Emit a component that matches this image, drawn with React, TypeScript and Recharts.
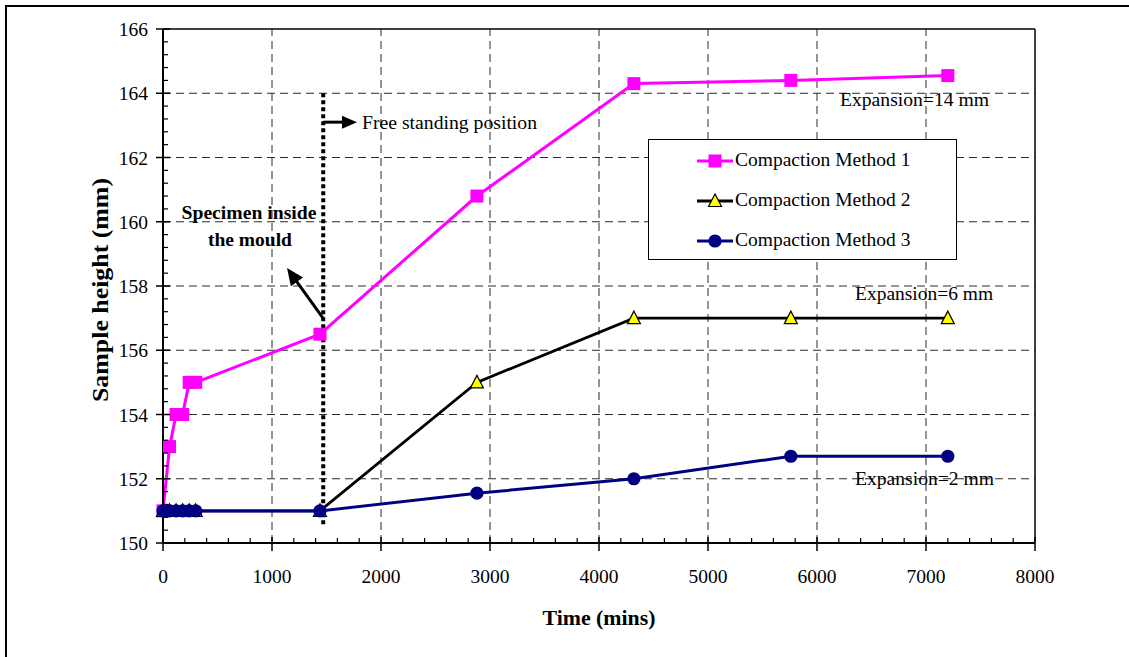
import React from 'react';
import { ComposedChart, Line, XAxis, YAxis, ReferenceLine, ReferenceDot, Legend, Label } from 'recharts';

// ---- data ----
const times = [0, 60, 120, 180, 240, 300, 1440, 2880, 4320, 5760, 7200];
const method1 = [151, 153, 154, 154, 155, 155, 156.5, 160.8, 164.3, 164.4, 164.55];
const method2 = [151, 151, 151, 151, 151, 151, 151, 155, 157, 157, 157];
const method3 = [151, 151, 151, 151, 151, 151, 151, 151.55, 152, 152.7, 152.7];

const seriesNames = ['Compaction Method 1', 'Compaction Method 2', 'Compaction Method 3'];
const seriesColors = ['#FF00FF', '#000000', '#000080'];

const xMajorTicks = [0, 1000, 2000, 3000, 4000, 5000, 6000, 7000, 8000];
const yMajorTicks = [150, 152, 154, 156, 158, 160, 162, 164, 166];
const xGridLines = [1000, 2000, 3000, 4000, 5000, 6000, 7000];
const yGridLines = [152, 154, 156, 158, 160, 162, 164];
const xMinorStep = 200;
const yMinorStep = 0.4;

const xAllTicks: number[] = [];
for (let i = 0; i <= 8000 / xMinorStep; i++) xAllTicks.push(i * xMinorStep);
const yAllTicks: number[] = [];
for (let i = 0; i <= 16 / yMinorStep; i++) yAllTicks.push(+(150 + i * yMinorStep).toFixed(1));

const data = times.map((t, i) => ({ t, m1: method1[i], m2: method2[i], m3: method3[i] }));

const FONT = "'Liberation Serif', 'Times New Roman', serif";

// ---- ticks ----
const XTick = (props: any) => {
  const { x, y, payload } = props;
  const v = payload.value;
  const major = xMajorTicks.includes(v);
  return (
    <g>
      {major ? (
        <line x1={x} x2={x} y1={y - 6} y2={y + 8} stroke="#000" strokeWidth={1.5} />
      ) : (
        <line x1={x} x2={x} y1={y} y2={y - 5} stroke="#000" strokeWidth={1.2} />
      )}
      {major && (
        <text x={x} y={y + 40} textAnchor="middle" fontFamily={FONT} fontSize={19.5} fill="#000">
          {v}
        </text>
      )}
    </g>
  );
};

const YTick = (props: any) => {
  const { x, y, payload } = props;
  const v = payload.value;
  const major = yMajorTicks.some((m) => Math.abs(m - v) < 1e-6);
  return (
    <g>
      {major ? (
        <line x1={x - 7} x2={x + 7} y1={y} y2={y} stroke="#000" strokeWidth={1.5} />
      ) : (
        <line x1={x} x2={x + 5} y1={y} y2={y} stroke="#000" strokeWidth={1.2} />
      )}
      {major && (
        <text x={x - 15} y={y + 7} textAnchor="end" fontFamily={FONT} fontSize={19.5} fill="#000">
          {Math.round(v)}
        </text>
      )}
    </g>
  );
};

// ---- markers ----
const SquareDot = (p: any) => (
  <rect key={`sq-${p.index}`} x={p.cx - 6.5} y={p.cy - 6.5} width={13} height={13} fill="#FF00FF" />
);
const TriangleDot = (p: any) => (
  <polygon
    key={`tr-${p.index}`}
    points={`${p.cx},${p.cy - 7} ${p.cx - 6.5},${p.cy + 5.5} ${p.cx + 6.5},${p.cy + 5.5}`}
    fill="#FFFF00"
    stroke="#000"
    strokeWidth={1.2}
  />
);
const CircleDot = (p: any) => <circle key={`ci-${p.index}`} cx={p.cx} cy={p.cy} r={6.6} fill="#000080" />;

const legendIcons = [
  <rect x={11.5} y={1.5} width={13} height={13} fill="#FF00FF" />,
  <polygon points="18,1 11.5,13.5 24.5,13.5" fill="#FFFF00" stroke="#000" strokeWidth={1.2} />,
  <circle cx={18} cy={8} r={6.6} fill="#000080" />,
];

// ---- arrow shape ----
const makeArrow = (head: number, half: number, width: number) => (p: any) => {
  const { x1, y1, x2, y2 } = p;
  const dx = x2 - x1;
  const dy = y2 - y1;
  const len = Math.sqrt(dx * dx + dy * dy) || 1;
  const ux = dx / len;
  const uy = dy / len;
  const bx = x2 - ux * head;
  const by = y2 - uy * head;
  const px = -uy * half;
  const py = ux * half;
  return (
    <g>
      <line x1={x1} y1={y1} x2={bx + ux * 1} y2={by + uy * 1} stroke="#000" strokeWidth={width} />
      <polygon points={`${x2},${y2} ${bx + px},${by + py} ${bx - px},${by - py}`} fill="#000" />
    </g>
  );
};

const textShape = (txt: string, opts: any) => (p: any) => (
  <text
    x={p.cx}
    y={p.cy}
    textAnchor={opts.anchor || 'start'}
    dominantBaseline="central"
    fontFamily={FONT}
    fontSize={opts.size || 19.5}
    fontWeight={opts.bold ? 'bold' : 'normal'}
    fill="#000"
    textLength={opts.len}
    lengthAdjust="spacingAndGlyphs"
  >
    {txt}
  </text>
);

const LegendContent = () => (
  <div
    style={{
      boxSizing: 'border-box',
      width: 309,
      height: 121,
      border: '1.5px solid #000',
      background: '#fff',
      paddingTop: 1,
      fontFamily: FONT,
      fontSize: 19.5,
      color: '#000',
    }}
  >
    {seriesNames.map((n, i) => (
      <div key={n} style={{ height: 40, display: 'flex', alignItems: 'center', position: 'relative' }}>
        <svg width={36} height={16} style={{ position: 'absolute', left: 48, top: 12 }}>
          <line x1={0} x2={36} y1={8} y2={8} stroke={seriesColors[i]} strokeWidth={3} />
          {legendIcons[i]}
        </svg>
        <span style={{ position: 'absolute', left: 86, top: 8, lineHeight: '22px', whiteSpace: 'nowrap' }}>{n}</span>
      </div>
    ))}
  </div>
);

export default function App() {
  return (
    <div style={{ position: 'absolute', left: 0, top: 0, width: 1129, height: 657, background: '#fff' }}>
      <div style={{ position: 'absolute', left: 5, top: 5, width: 1124, height: 652, borderTop: '2px solid #000', borderLeft: '2px solid #000' }} />
      <div style={{ position: 'absolute', left: 0, top: 0 }}>
        <ComposedChart width={1129} height={657} data={data} margin={{ top: 29, right: 94, bottom: 0, left: 0 }}>
          <XAxis
            dataKey="t"
            type="number"
            domain={[0, 8000]}
            ticks={xAllTicks}
            interval={0}
            tickSize={0}
            tickMargin={0}
            tickLine={false}
            axisLine={{ stroke: '#000', strokeWidth: 2 }}
            tick={XTick}
            height={114}
          >
            <Label
              content={(p: any) => {
                const vb = p.viewBox || {};
                return (
                  <text
                    x={vb.x + vb.width / 2}
                    y={vb.y + 74}
                    textAnchor="middle"
                    dominantBaseline="central"
                    fontFamily={FONT}
                    fontSize={22}
                    fontWeight="bold"
                    textLength={113}
                    lengthAdjust="spacingAndGlyphs"
                    fill="#000"
                  >
                    Time (mins)
                  </text>
                );
              }}
            />
          </XAxis>
          <YAxis
            type="number"
            domain={[150, 166]}
            ticks={yAllTicks}
            interval={0}
            tickSize={0}
            tickMargin={0}
            tickLine={false}
            axisLine={{ stroke: '#000', strokeWidth: 2 }}
            tick={YTick}
            width={163}
          >
            <Label
              content={(p: any) => {
                const vb = p.viewBox || {};
                const cx = vb.x + 100;
                const cy = vb.y + vb.height / 2 + 4;
                return (
                  <text
                    x={cx}
                    y={cy}
                    transform={`rotate(-90 ${cx} ${cy})`}
                    textAnchor="middle"
                    dominantBaseline="central"
                    fontFamily={FONT}
                    fontSize={22.5}
                    fontWeight="bold"
                    textLength={224}
                    lengthAdjust="spacingAndGlyphs"
                    fill="#000"
                  >
                    Sample height (mm)
                  </text>
                );
              }}
            />
          </YAxis>

          {xGridLines.map((v) => (
            <ReferenceLine key={`gx${v}`} x={v} stroke="#2a2a2a" strokeWidth={1} strokeDasharray="8 5" />
          ))}
          {yGridLines.map((v) => (
            <ReferenceLine key={`gy${v}`} y={v} stroke="#2a2a2a" strokeWidth={1} strokeDasharray="8 5" />
          ))}
          <ReferenceLine y={166} stroke="#000" strokeWidth={1.5} />
          <ReferenceLine x={8000} stroke="#000" strokeWidth={1.5} />

          <ReferenceDot x={6211} y={163.82} r={0} shape={textShape('Expansion=14 mm', { len: 149 })} />
          <ReferenceDot x={6349} y={157.78} r={0} shape={textShape('Expansion=6 mm', { len: 138 })} />
          <ReferenceDot x={6349} y={152.02} r={0} shape={textShape('Expansion=2 mm', { len: 139 })} />
          <ReferenceDot x={1826} y={163.1} r={0} shape={textShape('Free standing position', { len: 175 })} />
          <ReferenceDot x={789} y={160.3} r={0} shape={textShape('Specimen inside', { anchor: 'middle', bold: true, len: 135 })} />
          <ReferenceDot x={798} y={159.46} r={0} shape={textShape('the mould', { anchor: 'middle', bold: true, len: 84 })} />

          <Line type="linear" dataKey="m1" name={seriesNames[0]} stroke={seriesColors[0]} strokeWidth={3} dot={SquareDot} activeDot={false} isAnimationActive={false} />
          <Line type="linear" dataKey="m2" name={seriesNames[1]} stroke={seriesColors[1]} strokeWidth={2.8} dot={TriangleDot} activeDot={false} isAnimationActive={false} />
          <Line type="linear" dataKey="m3" name={seriesNames[2]} stroke={seriesColors[2]} strokeWidth={3} dot={CircleDot} activeDot={false} isAnimationActive={false} />

          <ReferenceLine
            segment={[{ x: 1470, y: 164 }, { x: 1470, y: 150.5 }]}
            stroke="#000"
            strokeWidth={4}
            strokeDasharray="4 3"
          />
          <ReferenceLine
            segment={[{ x: 1470, y: 163.1 }, { x: 1780, y: 163.1 }]}
            shape={makeArrow(15, 6.5, 3)}
          />
          <ReferenceLine
            segment={[{ x: 1468, y: 157.0 }, { x: 1138, y: 158.56 }]}
            shape={makeArrow(17, 7.5, 3)}
          />

          <Legend
            layout="vertical"
            align="center"
            verticalAlign="middle"
            content={LegendContent}
            wrapperStyle={{ left: 648, top: 139, width: 309, height: 121 }}
          />
        </ComposedChart>
      </div>
    </div>
  );
}
